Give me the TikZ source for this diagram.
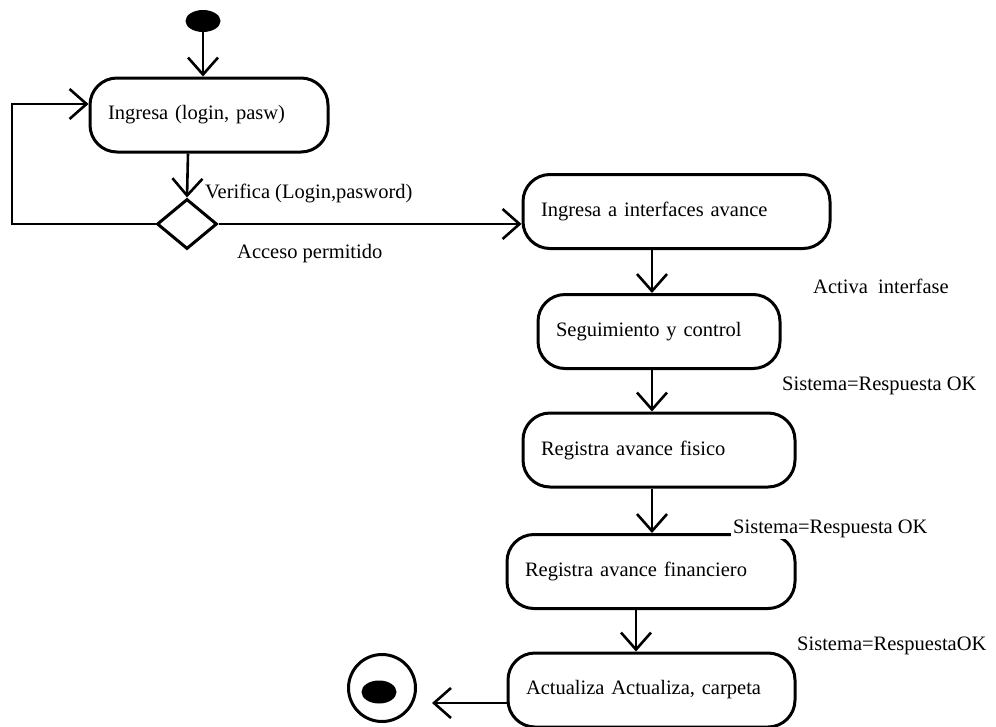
\documentclass[tikz,border=0pt]{standalone}
\usepackage{fontspec}
\setmainfont{Liberation Serif}
\usetikzlibrary{arrows.meta,shapes.geometric}
\begin{document}
\begin{tikzpicture}[x=1pt,y=-1pt,
  every node/.style={font=\fontsize{20.5}{24}\selectfont},
  act/.style={draw, line width=3pt, rounded corners=27pt, minimum height=74pt,
              inner xsep=18pt, inner ysep=0pt, align=left, text width=#1},
  arr/.style={draw, line width=2.6pt,
              -{Straight Barb[length=17pt,width=30pt,line width=2.6pt]}},
  lbl/.style={inner sep=0pt, anchor=base west}]
\useasboundingbox (0,0) rectangle (996,726);

% initial and final states
\node[fill=black, ellipse, minimum width=35pt, minimum height=22pt, inner sep=0pt] (ini) at (203,21) {};
\node[draw, circle, line width=3pt, minimum size=67pt, inner sep=0pt] (fin) at (382,688) {};
\node[fill=black, ellipse, minimum width=35pt, minimum height=23pt, inner sep=0pt] (finc) at (379,692) {};

% activities
\node[act=202pt] (login)  at (209,115)   {Ingresa (login, pasw)};
\node[draw, diamond, line width=3pt, minimum width=60pt, minimum height=50pt, inner sep=0pt] (dec) at (187,224) {};
\node[act=271pt] (intf)   at (676.5,211.5) {Ingresa a interfaces avance};
\node[act=206pt] (seg)    at (659,331.5) {Seguimiento y control};
\node[act=236pt] (fisico) at (659,450)   {Registra avance fisico};
\node[act=252pt] (fin2)   at (651,571.5) {Registra avance financiero};
\node[act=251pt] (act)    at (651.5,690) {Actualiza Actualiza, carpeta};

% guide columns for the vertical flows
\coordinate (c1) at (188,0);
\coordinate (c2) at (652,0);
\coordinate (c3) at (636,0);
\coordinate (loopx) at (12,0);

% connectors
\draw[arr] (ini.south) -- (ini.south |- login.north);
\draw[arr] (login.south -| c1) -- (dec.north);
\draw[arr] (dec.west) -| (loopx |- 0,104) -- (login.west |- 0,104);
\draw[arr] (dec.east) -- (dec.east -| intf.west);
\draw[arr] (intf.south -| c2) -- (seg.north -| c2);
\draw[arr] (seg.south -| c2) -- (fisico.north -| c2);
\draw[arr] (fisico.south -| c2) -- (fin2.north -| c2);
\draw[arr] (fin2.south -| c3) -- (act.north -| c3);
\draw[arr] (act.west |- 0,703) -- ([xshift=15pt]fin.east |- 0,703);

% guard labels
\node[lbl] (l1) at (205,198) {Verifica (Login,pasword)};
\node[lbl] (l2) at (237,258) {Acceso permitido};
\node[lbl] (l3) at (813,293) {Activa\ \ interfase};
\node[lbl] (l4) at (782,390) {Sistema=Respuesta OK};
\node[lbl, fill=white, inner sep=2pt] (l5) at (731,533) {Sistema=Respuesta OK};
\node[lbl] (l6) at (797,650) {Sistema=RespuestaOK};
\end{tikzpicture}
\end{document}
